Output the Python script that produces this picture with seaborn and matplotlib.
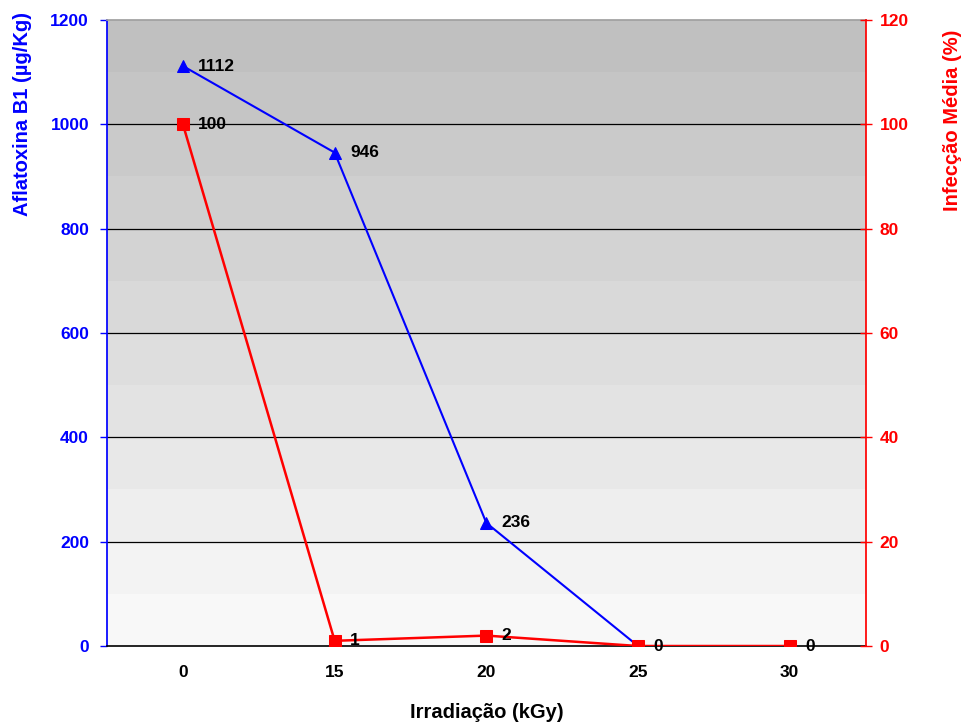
import numpy as np
import pandas as pd
import matplotlib
matplotlib.use("Agg")
import matplotlib.pyplot as plt
import seaborn as sns

categories = ["0", "15", "20", "25", "30"]
aflatoxina = [1112, 946, 236, 0, 0]
infeccao = [100, 1, 2, 0, 0]
left_ticks = [0, 200, 400, 600, 800, 1000, 1200]
right_ticks = [0, 20, 40, 60, 80, 100, 120]

sns.set_theme(style="white")
plt.rcParams['font.family'] = ['Liberation Sans', 'DejaVu Sans']

df = pd.DataFrame({"x": np.arange(len(categories)), "afl": aflatoxina, "inf": infeccao})

fig = plt.figure(figsize=(9.65, 7.24), dpi=100)
ax = fig.add_axes([0.111, 0.1077, 0.786, 0.8645])
ax2 = ax.twinx()

# gradient background
grad = np.linspace(0.75, 0.97, 12).reshape(-1, 1)
ax.imshow(grad, cmap="gray", vmin=0, vmax=1, aspect="auto",
          extent=[-0.5, 4.5, 0, 1200], origin="upper", zorder=0,
          interpolation="nearest")

ax.set_xlim(-0.5, 4.5)
ax.set_ylim(0, 1200)
ax2.set_ylim(0, 120)

for yv in left_ticks[1:-1]:
    ax.axhline(yv, color="black", lw=0.9, zorder=1)

sns.lineplot(data=df, x="x", y="afl", ax=ax, color="#0000ff", marker="^",
             markersize=9, markeredgecolor="#0000ff", lw=1.5, zorder=3)
sns.lineplot(data=df, x="x", y="inf", ax=ax2, color="#ff0000", marker="s",
             markersize=9, markeredgecolor="#ff0000", lw=1.8, zorder=3)

for i, v in enumerate(aflatoxina):
    if i < 3:
        ax.annotate(str(v), (i, v), xytext=(11, 0), textcoords="offset points",
                    va="center", ha="left", fontsize=12.5, fontweight="bold", color="black", zorder=5)
for i, v in enumerate(infeccao):
    ax2.annotate(str(v), (i, v), xytext=(11, 0), textcoords="offset points",
                 va="center", ha="left", fontsize=12.5, fontweight="bold", color="black", zorder=5)

ax.set_xticks(np.arange(len(categories)))
ax.set_xticklabels(categories, fontsize=12.5, fontweight="bold", color="black")
ax.set_xticks(np.arange(-0.5, 5, 1), minor=True)
ax.tick_params(axis="x", which="major", length=0, pad=14)
ax.tick_params(axis="x", which="minor", length=5, direction="out", color="black", width=1)

ax.set_yticks(left_ticks)
ax.set_yticklabels([str(t) for t in left_ticks], fontsize=12.5, fontweight="bold", color="#0000ff")
ax.tick_params(axis="y", length=5, direction="out", color="#0000ff", left=True, width=1, pad=8)
ax2.set_yticks(right_ticks)
ax2.set_yticklabels([str(t) for t in right_ticks], fontsize=12.5, fontweight="bold", color="#ff0000")
ax2.tick_params(axis="y", length=8, direction="inout", color="#ff0000", right=True, width=1, pad=6)

ax.set_xlabel("Irradiação (kGy)", fontsize=14.5, fontweight="bold", color="black", labelpad=16)
ax.set_ylabel("Aflatoxina B1 (µg/Kg)", fontsize=14.5, fontweight="bold", color="#0000ff",
              va="center", ha="center")
ax.yaxis.set_label_coords(-0.112, 0.850)
ax2.set_ylabel("Infecção Média (%)", fontsize=14.5, fontweight="bold", color="#ff0000",
               va="center", ha="center")
ax2.yaxis.set_label_coords(1.1146, 0.840)

for a in (ax, ax2):
    for s in a.spines.values():
        s.set_visible(False)
ax.spines["left"].set_visible(True)
ax.spines["left"].set_color("#0000ff")
ax.spines["bottom"].set_visible(True)
ax.spines["bottom"].set_color("black")
ax.spines["bottom"].set_linewidth(1.2)
ax2.spines["right"].set_visible(True)
ax2.spines["right"].set_color("#ff0000")
ax.spines["top"].set_visible(True)
ax.spines["top"].set_color("#a0a0a0")

ax2.set_zorder(ax.get_zorder() + 1)
ax2.patch.set_visible(False)

fig.savefig("out.png", dpi=100)
